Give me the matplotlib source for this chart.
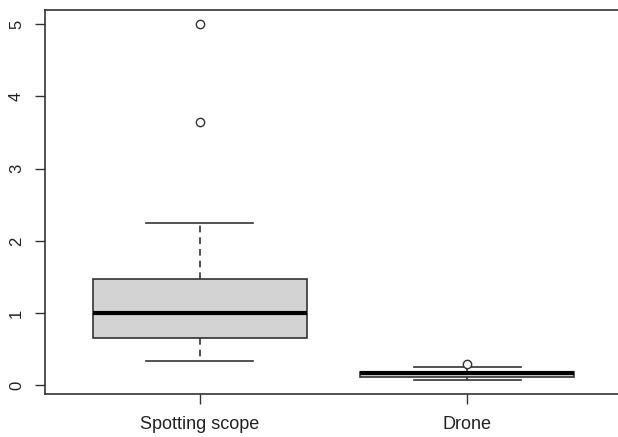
import matplotlib
matplotlib.use('Agg')
import matplotlib.pyplot as plt

matplotlib.rcParams['font.family'] = ['Liberation Sans', 'DejaVu Sans']

# summary statistics
groups = ['Spotting scope', 'Drone']
whislo = [0.33, 0.08]
q1 = [0.66, 0.12]
med = [1.00, 0.17]
q3 = [1.47, 0.19]
whishi = [2.25, 0.25]
fliers = [[5.0, 3.65], [0.29]]

stats = [dict(label=g, whislo=a, q1=b, med=c, q3=d, whishi=e, fliers=f)
         for g, a, b, c, d, e, f in zip(groups, whislo, q1, med, q3, whishi, fliers)]

fig = plt.figure(figsize=(6.18, 4.37), dpi=100)
# right edge of the plot box falls just outside the image, as in the reference
ax = fig.add_axes([0.0725, 0.099, 0.935, 0.878])

ax.bxp(stats, positions=[1, 2], widths=0.8, patch_artist=True,
       boxprops=dict(facecolor='#d3d3d3', edgecolor='#333333', linewidth=1.2),
       medianprops=dict(color='black', linewidth=3),
       whiskerprops=dict(color='#333333', linestyle=(0, (4, 3)), linewidth=1.2),
       capprops=dict(color='#333333', linewidth=1.2),
       capwidths=0.4,
       flierprops=dict(marker='o', markerfacecolor='white', markeredgecolor='#333333',
                       markersize=6, markeredgewidth=1))

ax.set_xlim(0.42, 2.58)
ax.set_ylim(-0.117, 5.197)
ax.set_yticks([0, 1, 2, 3, 4, 5])
ax.set_yticklabels(['0', '1', '2', '3', '4', '5'], rotation=90, va='center')
ax.tick_params(axis='both', direction='out', length=7, width=1, color='#333333',
               labelsize=12, labelcolor='#222222')
ax.tick_params(axis='y', pad=8)
ax.tick_params(axis='x', labelsize=13, pad=9)
for s in ax.spines.values():
    s.set_color('#333333')
    s.set_linewidth(1.2)

fig.savefig('out.png', dpi=100)
